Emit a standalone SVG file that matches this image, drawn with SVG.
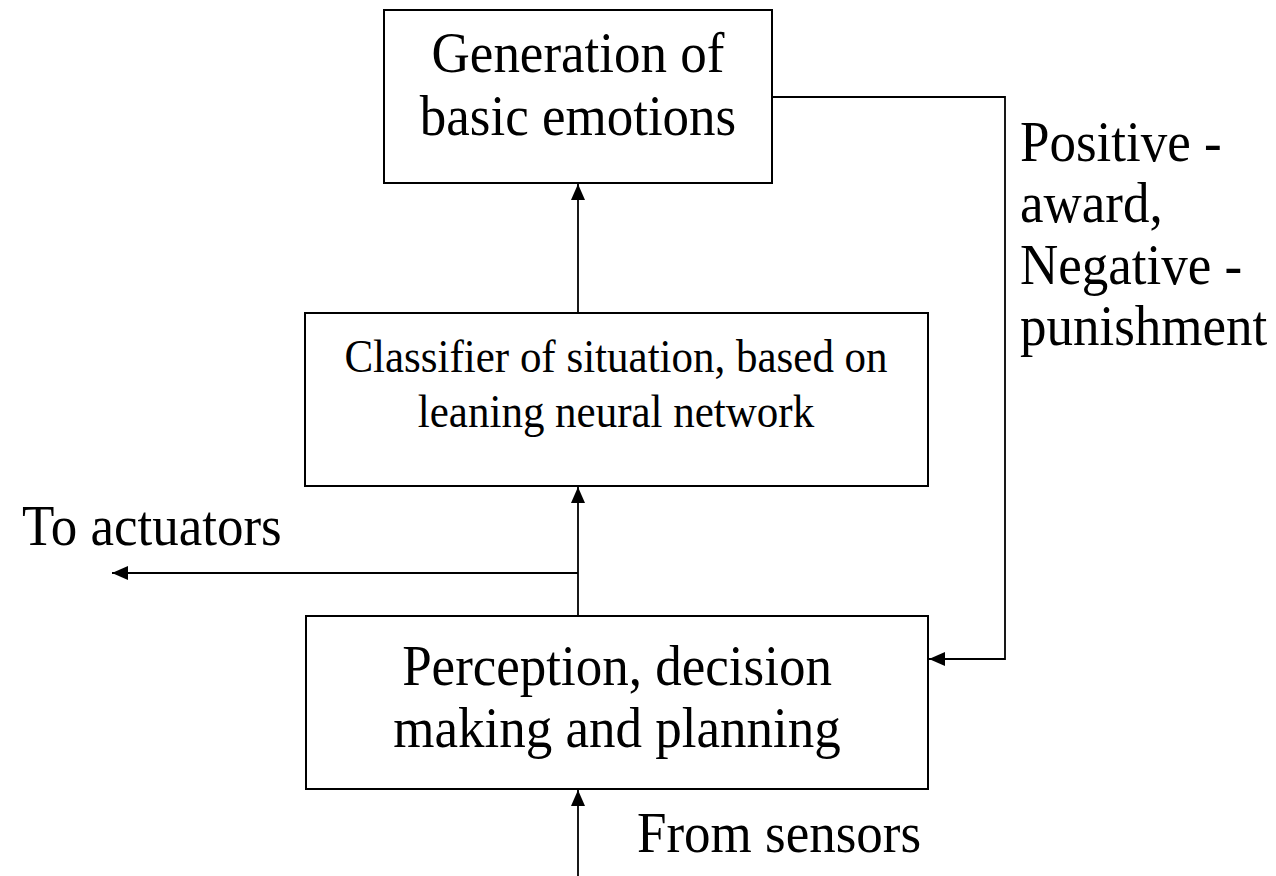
<svg xmlns="http://www.w3.org/2000/svg" width="1276" height="876" viewBox="0 0 1276 876">
<style>
.box{fill:#fff;stroke:#000;stroke-width:2}
.t{font-family:"Liberation Serif","Times New Roman",serif;fill:#000}
.big{font-size:53px}
.mid{font-size:43px}
.c{text-anchor:middle}
.ln{fill:none;stroke:#000;stroke-width:1.8}
</style>
<defs>
<marker id="ah" viewBox="0 0 16 14" refX="16" refY="7" markerWidth="16" markerHeight="14" markerUnits="userSpaceOnUse" orient="auto">
<path d="M0,0 L16,7 L0,14 z" fill="#000"/>
</marker>
</defs>
<rect width="1276" height="876" fill="#fff"/>
<g id="connectors">
<line class="ln" x1="578" y1="313" x2="578" y2="184" marker-end="url(#ah)"/>
<line class="ln" x1="578" y1="616" x2="578" y2="487" marker-end="url(#ah)"/>
<line class="ln" x1="578" y1="573" x2="112" y2="573" marker-end="url(#ah)"/>
<line class="ln" x1="578" y1="876" x2="578" y2="790" marker-end="url(#ah)"/>
<polyline class="ln" points="772,97 1005,97 1005,659 929,659" marker-end="url(#ah)"/>
</g>
<g id="node-emotions">
<rect class="box" x="384" y="10" width="388" height="173"/>
<text class="t big c" transform="translate(578,72) scale(1,1.06)">Generation of</text>
<text class="t big c" transform="translate(578,135) scale(1,1.06)">basic emotions</text>
</g>
<g id="node-classifier">
<rect class="box" x="305" y="313" width="623" height="173"/>
<text class="t mid c" transform="translate(616,372) scale(1,1.06)">Classifier of situation, based on</text>
<text class="t mid c" transform="translate(616,427) scale(1,1.06)">leaning neural network</text>
</g>
<g id="node-perception">
<rect class="box" x="306" y="616" width="622" height="173"/>
<text class="t big c" transform="translate(617,685) scale(1,1.06)">Perception, decision</text>
<text class="t big c" transform="translate(617,747) scale(1,1.06)">making and planning</text>
</g>
<g id="labels">
<text class="t big" transform="translate(22,545) scale(1,1.06)">To actuators</text>
<text class="t big" transform="translate(637,852) scale(1,1.06)">From sensors</text>
<text class="t big" transform="translate(1020,161) scale(1,1.06)">Positive -</text>
<text class="t big" transform="translate(1020,222) scale(1,1.06)">award,</text>
<text class="t big" transform="translate(1020,284) scale(1,1.06)">Negative -</text>
<text class="t big" transform="translate(1020,345) scale(1,1.06)">punishment</text>
</g>
</svg>
